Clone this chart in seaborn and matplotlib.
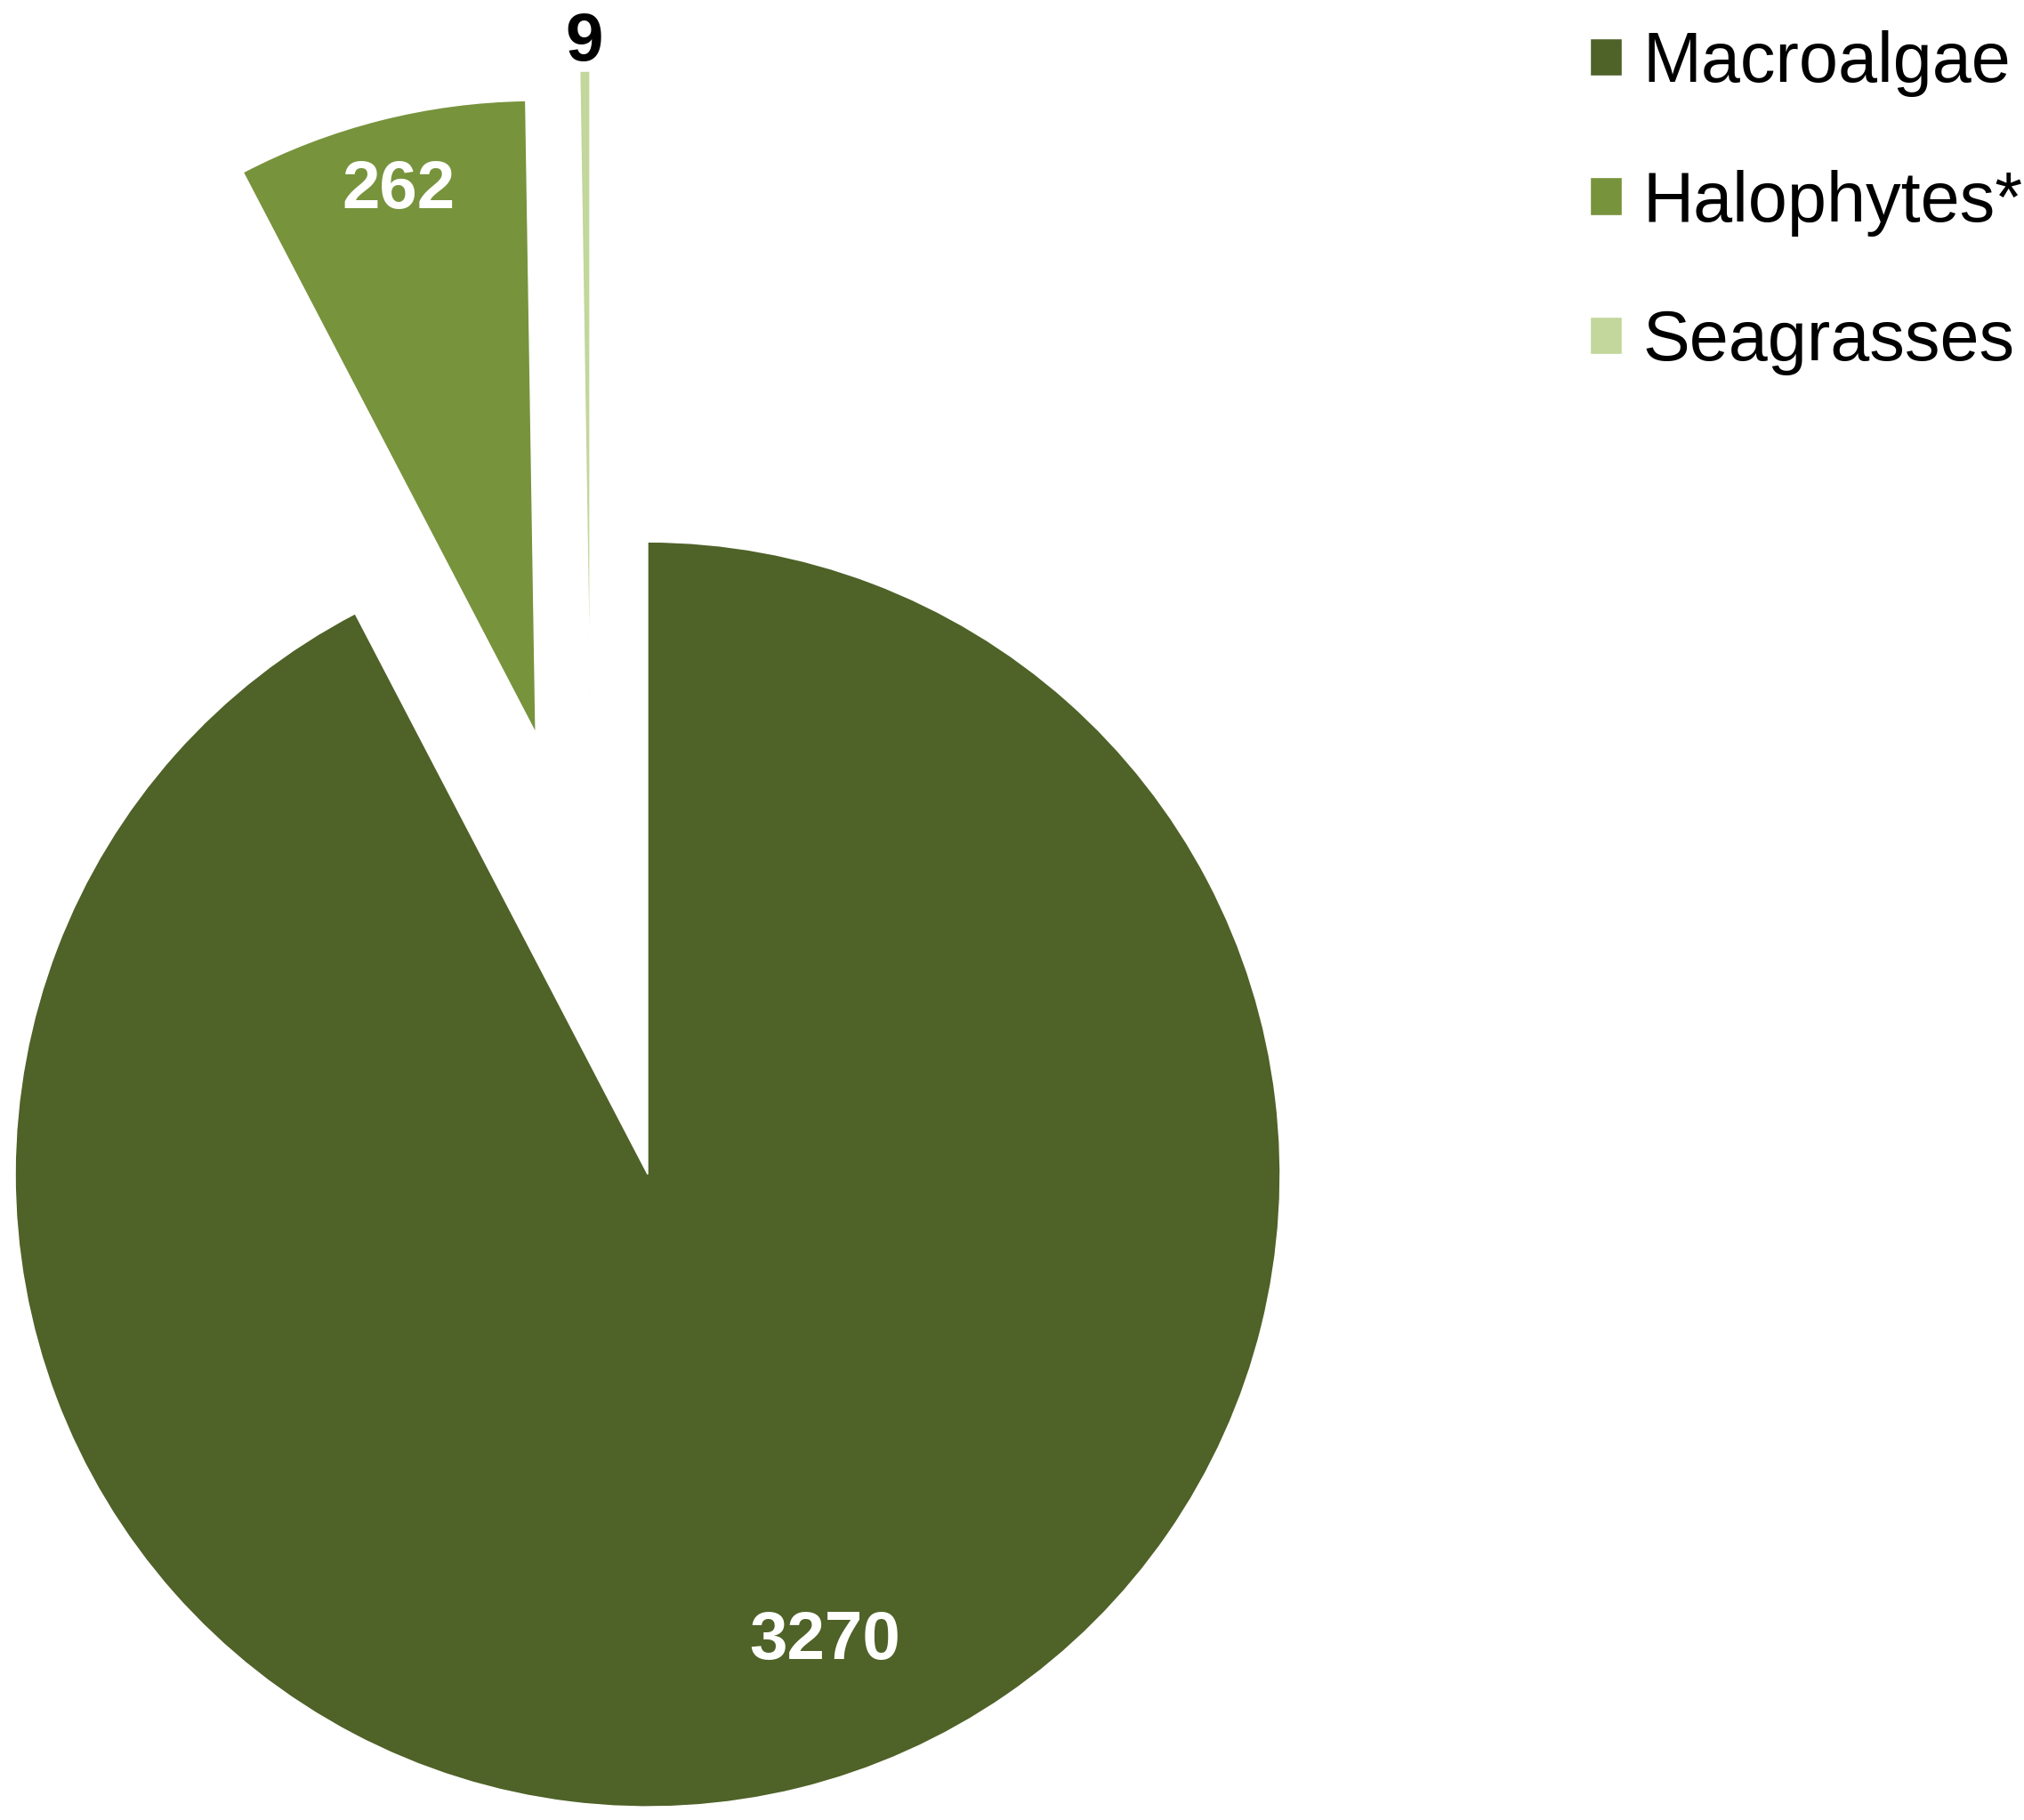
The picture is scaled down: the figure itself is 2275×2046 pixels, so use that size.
import numpy as np
import matplotlib.pyplot as plt
import seaborn as sns

groups = ['Macroalgae', 'Halophytes*', 'Seagrasses']
counts = [3270, 262, 9]
colors = ['#4f6228', '#77933c', '#c3d69b']
label_colors = ['white', 'white', 'black']

sns.set_theme(style='white')
plt.rcParams['font.family'] = ['Liberation Sans', 'DejaVu Sans']

fig = plt.figure(figsize=(22.75, 20.46), dpi=100)
ax = fig.add_axes([0, 0, 1, 1])

wedges, _ = ax.pie(counts, colors=colors, startangle=90, counterclock=False,
                   explode=[0, 0.72, 0.75], radius=1)

# the tiny seagrass slice was pulled out a little to the left of its bisector
d, a = 0.75, np.deg2rad(97)
wedges[2].set_center((d * np.cos(a), d * np.sin(a)))

# value labels: distance from slice tip and angle shift from bisector
label_r = [0.79, 0.885, 1.045]
label_shift = [7, 0, 0]
for w, n, r, s, c in zip(wedges, counts, label_r, label_shift, label_colors):
    t = np.deg2rad((w.theta1 + w.theta2) / 2 + s)
    cx, cy = w.center
    ax.text(cx + r * np.cos(t), cy + r * np.sin(t), str(n), ha='center', va='center',
            fontsize=55, fontweight='bold', color=c)

ax.set_xlim(-1.024, 2.176)
ax.set_ylim(-1.021, 1.857)
ax.set_aspect('equal')
ax.axis('off')

ax.legend(wedges, groups, loc='upper left', bbox_to_anchor=(1787 / 2275, 1 - 34 / 2046),
          bbox_transform=fig.transFigure, frameon=False, fontsize=57, labelcolor='black',
          handlelength=0.45, handleheight=0.45, handletextpad=0.3,
          labelspacing=1.03, borderpad=0, borderaxespad=0)

fig.savefig('out.png', dpi=100)
